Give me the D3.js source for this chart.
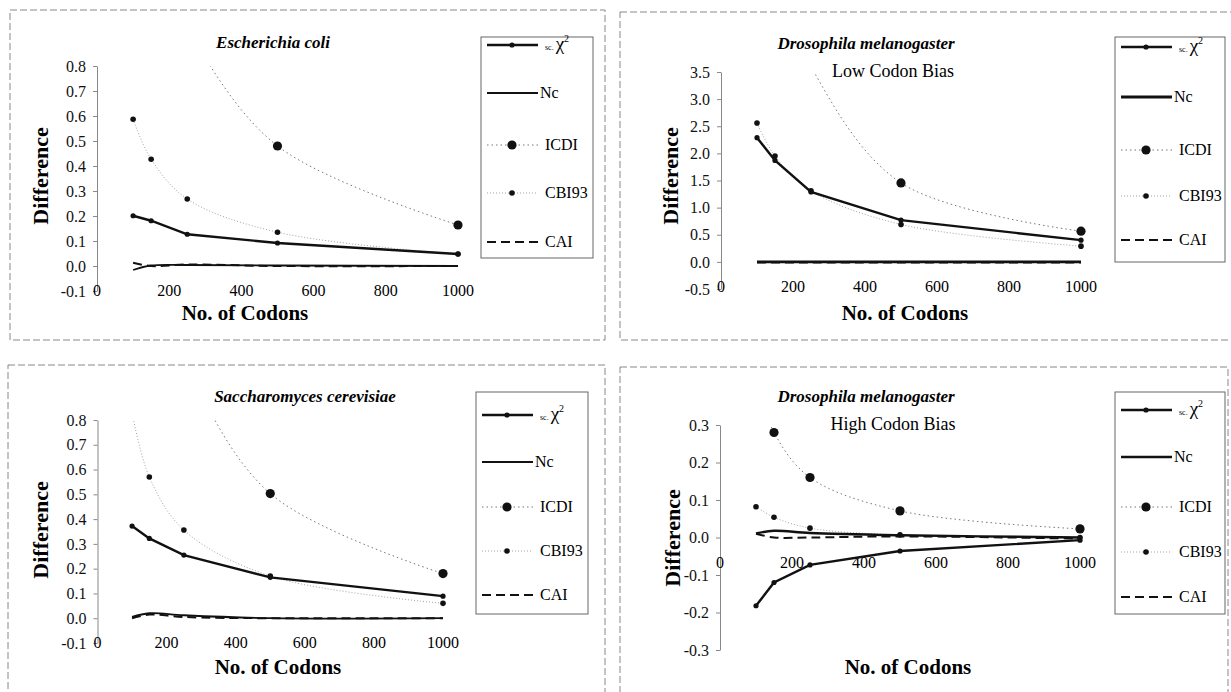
<!DOCTYPE html>
<html>
<head>
<meta charset="utf-8">
<title>Difference vs. No. of Codons</title>
<script src="https://d3js.org/d3.v7.min.js"></script>
<style>
  body { margin: 0; background: #fff; }
  svg text { font-family: "Liberation Serif", "Times New Roman", "DejaVu Serif", serif; }
</style>
</head>
<body>
<svg id="chart" width="1231" height="692"></svg>
<script>
const FONT = "'Liberation Serif', 'Times New Roman', 'DejaVu Serif', serif";

// x values shared by every panel
const codons = [100, 150, 250, 500, 1000];
const xTicks = [0, 200, 400, 600, 800, 1000];
const seriesNames = ["sc.", "Nc", "ICDI", "CBI93", "CAI"];

// Escherichia coli
const ecoliChi  = [0.201, 0.181, 0.127, 0.092, 0.048];
const ecoliNc   = [-0.016, 0.002, 0.004, 0.002, 0.0];
const ecoliIcdi = [1.6, 1.25, 0.95, 0.48, 0.164];
const ecoliCbi  = [0.587, 0.427, 0.268, 0.135, 0.048];
const ecoliCai  = [0.013, 0.0, 0.006, 0.0, 0.0];
const ecoliTicks = [-0.1, 0.0, 0.1, 0.2, 0.3, 0.4, 0.5, 0.6, 0.7, 0.8];

// Drosophila melanogaster, low codon bias
const lowChi  = [2.29, 1.87, 1.29, 0.77, 0.40];
const lowNc   = [0.0, 0.0, 0.0, 0.0, 0.0];
const lowIcdi = [7.0, 5.3, 3.6, 1.455, 0.565];
const lowCbi  = [2.56, 1.95, 1.31, 0.69, 0.29];
const lowCai  = [-0.01, -0.01, -0.01, -0.01, -0.01];
const lowTicks = [-0.5, 0.0, 0.5, 1.0, 1.5, 2.0, 2.5, 3.0, 3.5];

// Saccharomyces cerevisiae
const yeastChi  = [0.372, 0.322, 0.255, 0.165, 0.089];
const yeastNc   = [0.005, 0.02, 0.012, 0.0, 0.0];
const yeastIcdi = [1.9, 1.45, 1.05, 0.503, 0.18];
const yeastCbi  = [0.83, 0.57, 0.356, 0.17, 0.06];
const yeastCai  = [0.0, 0.015, 0.005, 0.0, 0.0];
const yeastTicks = [-0.1, 0.0, 0.1, 0.2, 0.3, 0.4, 0.5, 0.6, 0.7, 0.8];

// Drosophila melanogaster, high codon bias
const highChi  = [-0.182, -0.12, -0.073, -0.036, -0.007];
const highNc   = [0.011, 0.018, 0.012, 0.006, 0.0];
const highIcdi = [0.42, 0.28, 0.16, 0.071, 0.023];
const highCbi  = [0.082, 0.054, 0.025, 0.007, 0.0];
const highCai  = [0.01, 0.0, 0.0, 0.003, -0.003];
const highTicks = [-0.3, -0.2, -0.1, 0.0, 0.1, 0.2, 0.3];

// look of each series, in the order of seriesNames
const styles = [
  {stroke: "#111", width: 2.4, dash: null,    curve: d3.curveLinear,     r: 2.6},
  {stroke: "#111", width: 1.8, dash: null,    curve: d3.curveCatmullRom, r: 0},
  {stroke: "#777", width: 1.0, dash: "1.5,3", curve: d3.curveCatmullRom, r: 4.6},
  {stroke: "#999", width: 0.9, dash: "1,2",   curve: d3.curveCatmullRom, r: 2.8},
  {stroke: "#111", width: 2.0, dash: "9,5",   curve: d3.curveCatmullRom, r: 0}
];
const drawOrder = [3, 2, 4, 1, 0];

const panels = [
  {title: "Escherichia coli", sub: null,
   series: [ecoliChi, ecoliNc, ecoliIcdi, ecoliCbi, ecoliCai], ticks: ecoliTicks,
   frame: [10, 10, 595, 330], xr: [97, 458], yr: [291, 66],
   titleX: 273, titleY: 48, diff: [40, 176], cod: [245, 320],
   legend: [481, 37, 112, 221], rows: [45, 93, 145, 193, 242]},
  {title: "Drosophila melanogaster", sub: "Low Codon Bias", ncWidth: 2.8,
   series: [lowChi, lowNc, lowIcdi, lowCbi, lowCai], ticks: lowTicks,
   frame: [620, 12, 620, 328], xr: [721, 1081], yr: [289, 72],
   titleX: 866, titleY: 49, diff: [670, 176], cod: [905, 320],
   legend: [1115, 37, 110, 225], rows: [47, 97, 150, 196, 240]},
  {title: "Saccharomyces cerevisiae", sub: null,
   series: [yeastChi, yeastNc, yeastIcdi, yeastCbi, yeastCai], ticks: yeastTicks,
   frame: [8, 365, 597, 340], xr: [97.5, 443], yr: [643, 420],
   titleX: 305, titleY: 402, diff: [40, 530], cod: [278, 674],
   legend: [476, 392, 112, 222], rows: [415, 462, 507, 551, 595]},
  {title: "Drosophila melanogaster", sub: "High Codon Bias", ncWidth: 2.4,
   series: [highChi, highNc, highIcdi, highCbi, highCai], ticks: highTicks,
   frame: [620, 367, 608, 340], xr: [720, 1080], yr: [650, 425],
   titleX: 866, titleY: 402, diff: [672, 538], cod: [908, 674],
   legend: [1115, 392, 110, 222], rows: [410, 457, 507, 552, 597]}
];

const svg = d3.select("#chart");

panels.forEach(function(p, pi) {
  const g = svg.append("g").attr("font-family", FONT);
  const x = d3.scaleLinear().domain([0, 1000]).range(p.xr);
  const y = d3.scaleLinear().domain(d3.extent(p.ticks)).range(p.yr);

  // scanned panel frame
  g.append("rect")
    .attr("x", p.frame[0]).attr("y", p.frame[1])
    .attr("width", p.frame[2]).attr("height", p.frame[3])
    .attr("fill", "none").attr("stroke", "#888")
    .attr("stroke-width", 1).attr("stroke-dasharray", "7,3");

  // titles
  g.append("text").attr("x", p.titleX).attr("y", p.titleY)
    .attr("text-anchor", "middle").attr("font-family", FONT).style("font-size", "17px")
    .style("font-weight", "bold").style("font-style", "italic")
    .text(p.title);
  if (p.sub) {
    g.append("text").attr("x", p.titleX + 27).attr("y", p.titleY + 28)
      .attr("text-anchor", "middle").attr("font-family", FONT).style("font-size", "18px")
      .text(p.sub);
  }

  // y axis
  const ax = g.append("g")
    .attr("transform", "translate(" + p.xr[0] + ",0)")
    .call(d3.axisLeft(y).tickValues(p.ticks).tickSize(4).tickSizeOuter(0)
      .tickPadding(7).tickFormat(function(v) { return v.toFixed(1); }));
  ax.attr("font-family", FONT);
  ax.select(".domain").attr("stroke", "#888");
  ax.selectAll(".tick line").attr("stroke", "#888");
  ax.selectAll("text").attr("font-family", FONT).style("font-size", "16px").attr("fill", "#111");

  // x tick labels, sitting below the zero line
  g.selectAll(".xl").data(xTicks).enter().append("text")
    .attr("x", function(d) { return x(d); })
    .attr("y", y(0) + 30)
    .attr("text-anchor", "middle").attr("font-family", FONT).style("font-size", "16px")
    .text(function(d) { return d; });

  // axis titles
  g.append("text")
    .attr("transform", "translate(" + p.diff[0] + "," + p.diff[1] + ") rotate(-90)")
    .attr("text-anchor", "middle").attr("dy", "0.35em").attr("font-family", FONT)
    .style("font-size", "22px").style("font-weight", "bold")
    .text("Difference");
  g.append("text").attr("x", p.cod[0]).attr("y", p.cod[1])
    .attr("text-anchor", "middle").attr("font-family", FONT)
    .style("font-size", "21px").style("font-weight", "bold")
    .text("No. of Codons");

  // clip region of the plot
  const clipId = "clip" + pi;
  svg.append("clipPath").attr("id", clipId).append("rect")
    .attr("x", p.xr[0]).attr("y", p.yr[1])
    .attr("width", p.xr[1] - p.xr[0] + 12).attr("height", p.yr[0] - p.yr[1]);
  const plot = g.append("g").attr("clip-path", "url(#" + clipId + ")");

  drawOrder.forEach(function(si) {
    const st = styles[si];
    const pts = codons.map(function(c, i) { return [c, p.series[si][i]]; });
    const line = d3.line().curve(st.curve)
      .x(function(d) { return x(d[0]); })
      .y(function(d) { return y(d[1]); });
    const w = (si === 1 && p.ncWidth) ? p.ncWidth : st.width;
    plot.append("path").datum(pts)
      .attr("d", line).attr("fill", "none")
      .attr("stroke", st.stroke).attr("stroke-width", w)
      .attr("stroke-dasharray", st.dash);
    if (st.r > 0) {
      plot.selectAll(null).data(pts).enter().append("circle")
        .attr("cx", function(d) { return x(d[0]); })
        .attr("cy", function(d) { return y(d[1]); })
        .attr("r", st.r).attr("fill", "#111");
    }
  });

  // legend
  const L = p.legend;
  const lg = g.append("g");
  lg.append("rect").attr("x", L[0]).attr("y", L[1]).attr("width", L[2]).attr("height", L[3])
    .attr("fill", "#fff").attr("stroke", "#666").attr("stroke-width", 1);
  seriesNames.forEach(function(name, si) {
    const st = styles[si];
    const ry = p.rows[si];
    const w = (si === 1 && p.ncWidth) ? p.ncWidth : st.width;
    lg.append("line").attr("x1", L[0] + 6).attr("x2", L[0] + 57)
      .attr("y1", ry).attr("y2", ry)
      .attr("stroke", st.stroke).attr("stroke-width", w)
      .attr("stroke-dasharray", st.dash);
    if (st.r > 0) {
      lg.append("circle").attr("cx", L[0] + 31).attr("cy", ry).attr("r", st.r).attr("fill", "#111");
    }
    const t = lg.append("text").attr("x", L[0] + (si === 1 ? 59 : 64)).attr("y", ry + 5)
      .attr("font-family", FONT).style("font-size", "16px");
    if (si === 0) {
      t.append("tspan").style("font-size", "8px").text(name + " ");
      t.append("tspan").style("font-size", "19px").text("χ");
      t.append("tspan").style("font-size", "10px").attr("dy", -8).text("2");
    } else {
      t.text(name);
    }
  });
});
</script>
</body>
</html>
